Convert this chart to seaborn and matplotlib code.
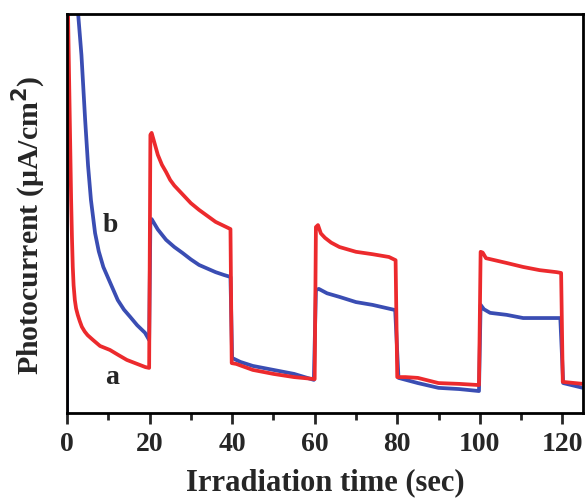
import numpy as np
import pandas as pd
import matplotlib
matplotlib.use("Agg")
import matplotlib.pyplot as plt
import seaborn as sns

# Curve a (red)
t_a = [0, 0.25, 1.0, 1.2, 1.4, 1.6, 1.9, 2.2, 2.6, 3.1, 3.6, 4.3, 5, 6.3, 8, 10.4, 12.5, 14.5, 17, 19, 19.9,
       20.2, 20.5, 21, 22, 23, 24, 25, 26, 27, 28, 30, 32, 34, 36, 38, 39.6,
       39.9, 41, 45, 50, 55, 60.0,
       60.3, 60.8, 61.5, 62.5, 64, 66, 68, 70, 74, 78, 79.6,
       80.0, 82, 85, 90, 95, 99.8,
       100.2, 100.7, 101.5, 104, 106.5, 110.5, 114.5, 118.6, 119.7,
       120.1, 125]
y_a = [110, 100, 53.4, 44.0, 36.6, 32.0, 28.3, 26.2, 24.6, 23.0, 21.6, 20.4, 19.5, 18.3, 16.8, 15.8, 14.5, 13.3, 12.3, 11.5, 11.3,
       69.7, 70.2, 68.4, 64.7, 62.2, 60.4, 58.4, 57.0, 55.9, 54.8, 52.6, 50.9, 49.4, 47.9, 46.9, 46.1,
       12.5, 12.3, 10.8, 9.8, 9.0, 8.5,
       46.6, 47.1, 45.0, 43.9, 42.7, 41.6, 41.0, 40.4, 39.8, 39.1, 38.3,
       9.0, 9.0, 8.8, 7.5, 7.3, 7.0,
       40.4, 40.2, 38.8, 38.2, 37.6, 36.6, 35.8, 35.3, 35.1,
       7.8, 7.3]

# Curve b (blue)
t_b = [0, 0.05, 2.7, 3.5, 4.4, 5.1, 5.8, 6.8, 7.7, 8.8, 10.4, 12.3, 13.8, 15.3, 17, 18.9, 19.9,
       20.2, 20.5, 22, 24, 26, 28, 30, 32, 34, 36, 38, 39.6,
       40.0, 42, 45, 50, 55, 59.8,
       60.3, 61, 63, 66, 70, 74, 79.5,
       80.3, 85, 90, 95, 99.8,
       100.2, 101, 102.5, 106.5, 110.5, 114.5, 119.5,
       120.2, 125]
y_b = [0, 110, 100, 89.7, 73.4, 62.0, 53.4, 45.1, 40.5, 36.6, 32.8, 28.3, 25.9, 24.1, 22.0, 20.1, 18.3,
       47.9, 48.6, 46.0, 43.4, 41.6, 40.1, 38.5, 37.1, 36.2, 35.3, 34.6, 34.1,
       13.8, 12.8, 11.8, 10.8, 9.8, 8.3,
       30.8, 31.1, 30.0, 29.1, 27.8, 27.1, 25.8,
       8.8, 7.5, 6.3, 6.0, 5.5,
       27.1, 26.0, 25.1, 24.6, 23.8, 23.8, 23.8,
       7.5, 6.3]

x_ticks = [0, 20, 40, 60, 80, 100, 120]

sns.set_style("ticks")
plt.rcParams['font.family'] = ['Liberation Serif', 'DejaVu Serif']
plt.rcParams['font.weight'] = 'bold'

fig = plt.figure(figsize=(5.86, 4.99), dpi=100)
ax = fig.add_axes([67/586, 1 - 413/499, (583-67)/586, (413-14)/499])

df_b = pd.DataFrame({"t": t_b, "y": y_b})
df_a = pd.DataFrame({"t": t_a, "y": y_a})
sns.lineplot(data=df_b, x="t", y="y", ax=ax, color="#3a4db3", lw=2.7, sort=False)
sns.lineplot(data=df_a, x="t", y="y", ax=ax, color="#ec2a2d", lw=2.7, sort=False)

ax.set_xlim(0, 125)
ax.set_ylim(0, 100)
ax.set_xticks(x_ticks)
ax.set_xticks(range(10, 125, 20), minor=True)
ax.set_xticklabels([str(v) for v in x_ticks], fontsize=20, fontweight='bold')
ax.set_yticks([])
ax.tick_params(axis='x', which='major', direction='out', length=8, width=2, pad=6)
ax.tick_params(axis='x', which='minor', direction='out', length=5, width=2)
for s in ax.spines.values():
    s.set_linewidth(2)
    s.set_color('black')

ax.set_xlabel("Irradiation time (sec)", fontsize=22, fontweight='bold', labelpad=8)
ax.set_ylabel("Photocurrent (\u03bcA/cm$^{\\mathbf{2}}$)", fontsize=21.5, fontweight='bold')
ax.yaxis.set_label_coords(-0.037, 0.47)

ax.text(10.4, 47.1, "b", fontsize=20, fontweight='bold', ha='center', va='center')
ax.text(10.9, 9.0, "a", fontsize=20, fontweight='bold', ha='center', va='center')

fig.savefig("out.png", dpi=100)
